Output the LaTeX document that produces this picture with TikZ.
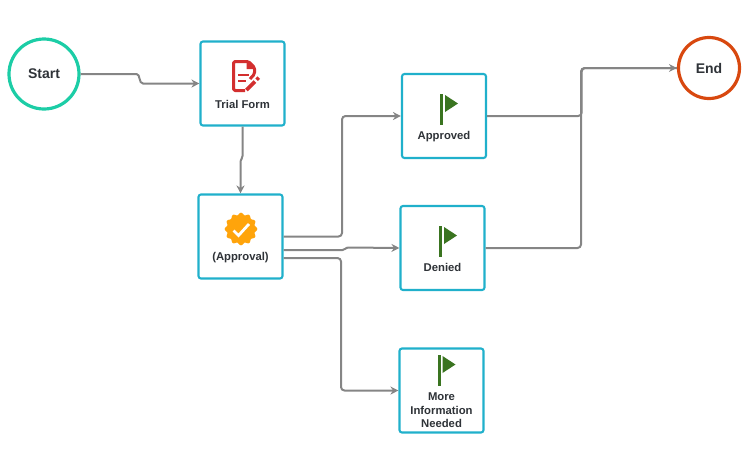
\documentclass[tikz,border=0pt]{standalone}
\usepackage{fontspec}
\setmainfont{Liberation Sans}
\usetikzlibrary{arrows.meta}
\definecolor{boxc}{HTML}{20B0CB}
\definecolor{startc}{HTML}{1CCDA6}
\definecolor{endc}{HTML}{D8480F}
\definecolor{linec}{HTML}{858585}
\definecolor{flagc}{HTML}{3A7420}
\definecolor{docc}{HTML}{D32F2F}
\definecolor{badgec}{HTML}{FFA40B}
\definecolor{textc}{HTML}{2F3338}
\tikzset{
  x=1pt,y=-1pt,
  taskbox/.style={draw=boxc,line width=2.1pt,rounded corners=2.5pt,minimum width=84pt,minimum height=84pt,inner sep=0pt,fill=white},
  startc1/.style={circle,draw=startc,line width=3.2pt,minimum size=70pt,inner sep=0pt,font=\fontsize{14}{16}\selectfont\bfseries,text=textc},
  endc1/.style={circle,draw=endc,line width=3.2pt,minimum size=61pt,inner sep=0pt,font=\fontsize{14}{16}\selectfont\bfseries,text=textc},
  tasklabel/.style={font=\fontsize{11.3}{13.4}\selectfont\bfseries,text=textc,align=center,inner sep=0pt},
  connbase/.style={draw=linec,line width=2pt},
  conn/.style={connbase,rounded corners=3.5pt},
  connarrow/.style={conn,-{Stealth[length=8pt,width=8pt]}},
  jogarrow/.style={connbase,-{Stealth[length=8pt,width=8pt]}},
  pics/flag/.style={code={
    \fill[flagc] (-1.5,0) rectangle (1.5,31);
    \fill[flagc] (3.5,1.5) -- (16.5,10) -- (3.5,18.5) -- cycle;
  }}
}
\begin{document}
\begin{tikzpicture}
\useasboundingbox (0,0) rectangle (752,451);
\node[startc1] (start) at (44,74) {Start};
\node[endc1] (end) at (709,68) {End};
\node[taskbox] (trial) at (242.5,83.5) {};
\node[taskbox] (appr) at (240.5,236.5) {};
\node[taskbox] (approved) at (444,116) {};
\node[taskbox] (denied) at (442.5,248) {};
\node[taskbox] (more) at (441.5,390.5) {};
\node[tasklabel] (ltrial) at (242.5,104) {Trial Form};
\node[tasklabel] (lappr) at (240.5,257.5) {(Approval)};
\node[tasklabel] (lapproved) at (444,136.5) {Approved};
\node[tasklabel] (ldenied) at (442.5,267.3) {Denied};
\node[tasklabel] (lmore) at (441.5,410.5) {More\\Information\\Needed};
% connectors
\draw[jogarrow] (start.east) -- (136.5,74) .. controls (140.5,74) and (138.5,83.5) .. (143,83.5) -- (trial.west);
\draw[jogarrow] (trial.south) -- (242.5,156) .. controls (242.5,160) and (240.5,158) .. (240.5,163) -- (appr.north);
\draw[connarrow] (appr.east) -- (342,236.5) -- (342,116) -- (approved.west);
\draw[jogarrow] ([yshift=-13.5pt]appr.east) -- (342.5,250) .. controls (346,250) and (344.5,247.5) .. (349,247.5) -- (denied.west);
\draw[connarrow] ([yshift=-21.5pt]appr.east) -- (341,258) -- (341,390.5) -- (more.west);
\draw[connarrow] (denied.east) -- (581,248) -- (581,68) -- (end.west);
\draw[conn] (approved.east) -- (581.7,116) -- (581.7,68) -- (end.west);
% flags
\pic at (441.5,93.5) {flag};
\pic at (440.5,225.5) {flag};
\pic at (439,354.5) {flag};
% document icon
\draw[docc,line width=3pt,line join=round,rounded corners=1.5pt] (250,79) -- (254.5,74) -- (254.5,67.5) -- (248.5,61.5) -- (233.5,61.5) -- (233.5,90.5) -- (245,90.5);
\fill[docc] (246.5,60.5) -- (246.5,69) -- (255.5,69) -- cycle;
\draw[docc,line width=2.4pt] (238,75) -- (249,75) (238,81) -- (245.5,81);
\draw[docc,line width=3.6pt] (246.5,90) -- (255,81.5);
\draw[docc,line width=3.6pt] (256.6,79.8) -- (258.8,77.6);
% badge icon
\fill[badgec] plot[domain=0:360,samples=145,smooth] ({241+15.2*(1+0.07*cos(12*\x))*cos(\x)},{229+15.2*(1+0.07*cos(12*\x))*sin(\x)}) -- cycle;
\draw[white,line width=2.8pt] (233.5,230.5) -- (238.5,235.5) -- (249,224);
\end{tikzpicture}
\end{document}
